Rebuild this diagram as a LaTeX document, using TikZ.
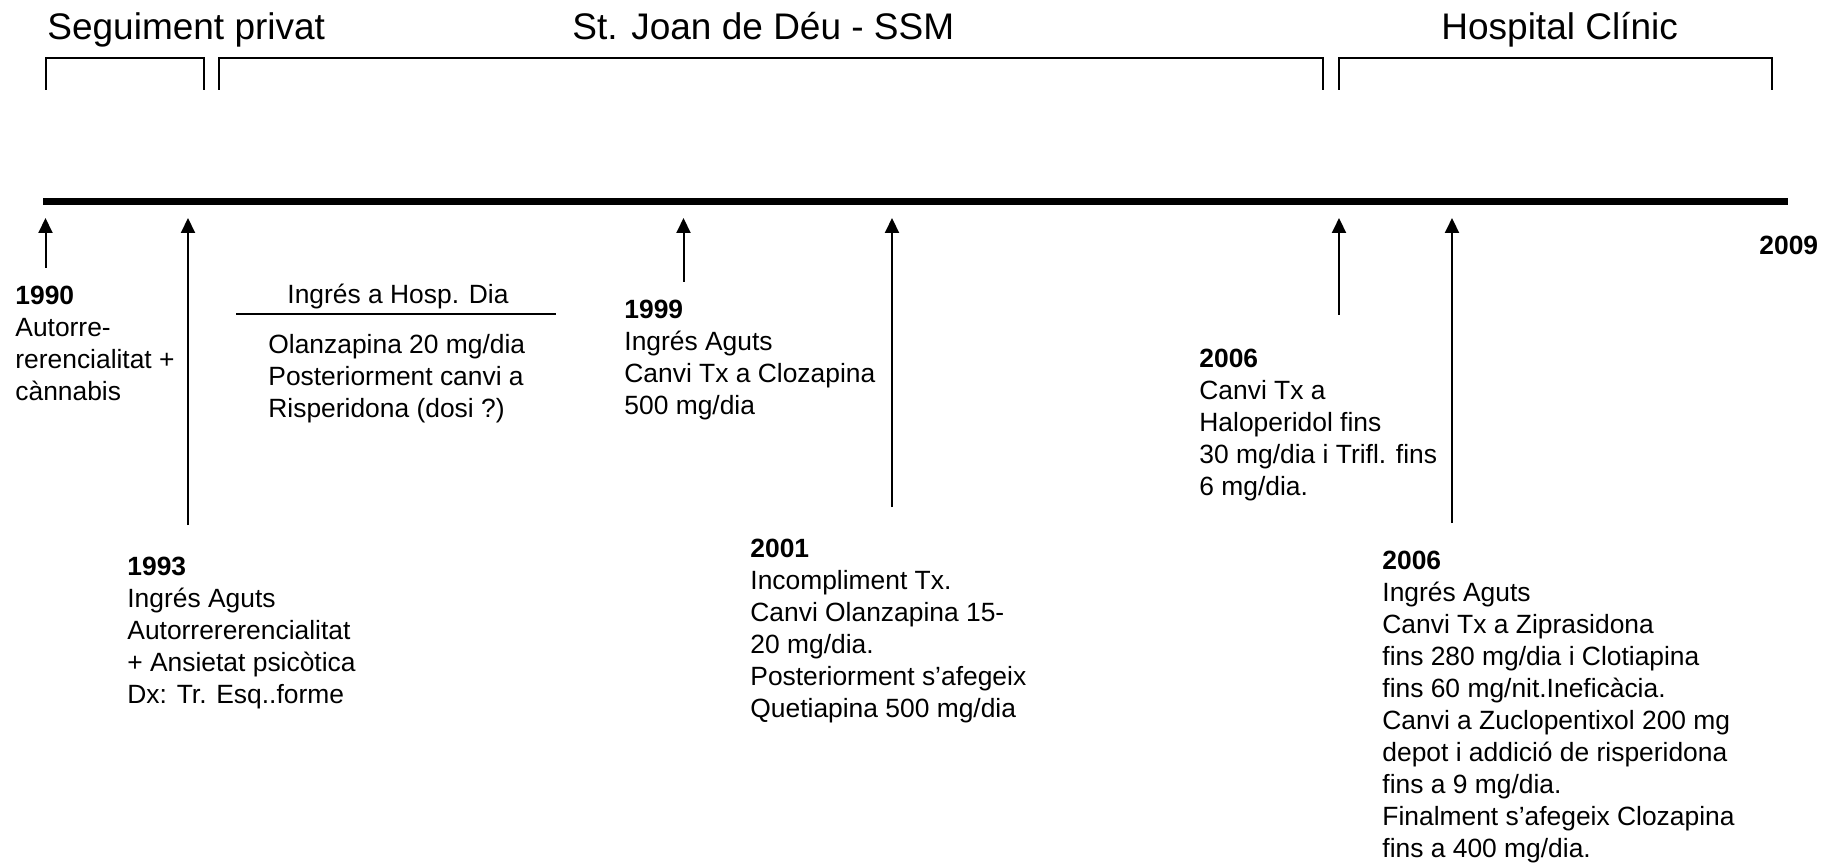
\documentclass[tikz,border=0pt]{standalone}
\usepackage{fontspec}
\setmainfont{Liberation Sans}
\usetikzlibrary{arrows.meta}
\begin{document}
\begin{tikzpicture}[x=0.5pt,y=-0.5pt,
  body/.style={anchor=north west, inner sep=0pt, align=left, font={\fontsize{13.2}{16}\selectfont}},
  ttl/.style={anchor=base west, inner sep=0pt, font={\fontsize{18.5}{22}\selectfont}},
  arr/.style={line width=1pt, -{Triangle[length=7.5pt,width=7pt]}},
  brk/.style={line width=0.9pt},
  bar/.style={line width=3.5pt},
  rule/.style={line width=0.75pt}]
\useasboundingbox (0,0) rectangle (1829,865);

% titles
\node[ttl] (t1) at (47,40) {Seguiment privat};
\node[ttl] (t2) at (572,40) {St. Joan de Déu - SSM};
\node[ttl] (t3) at (1441,40) {Hospital Clínic};

% brackets
\draw[brk] (46,90) -- (46,58) -- (204,58) -- (204,90);
\draw[brk] (219,90) -- (219,58) -- (1323,58) -- (1323,90);
\draw[brk] (1339,90) -- (1339,58) -- (1772,58) -- (1772,90);

% timeline
\coordinate (tlA) at (43,202);
\coordinate (tlB) at (1788,202);
\draw[bar] (tlA) -- (tlB);

% arrows
\coordinate (b1990) at (45.5,268);  \coordinate (e1990) at (45.5,218);
\coordinate (b1993) at (188,525);   \coordinate (e1993) at (188,218);
\coordinate (b1999) at (683.5,282); \coordinate (e1999) at (683.5,218);
\coordinate (b2001) at (892,507);   \coordinate (e2001) at (892,218);
\coordinate (b2006a) at (1339,315); \coordinate (e2006a) at (1339,218);
\coordinate (b2006b) at (1452,523); \coordinate (e2006b) at (1452,218);
\draw[arr] (b1990) -- (e1990);
\draw[arr] (b1993) -- (e1993);
\draw[arr] (b1999) -- (e1999);
\draw[arr] (b2001) -- (e2001);
\draw[arr] (b2006a) -- (e2006a);
\draw[arr] (b2006b) -- (e2006b);

% texts
\node[body] (n1990) at (15,285.5) {\textbf{1990}\\Autorre-\\rerencialitat +\\cànnabis};
\node[body] (n1993) at (127,556.5) {\textbf{1993}\\Ingrés Aguts\\Autorrererencialitat\\+ Ansietat psicòtica\\Dx: Tr. Esq..forme};
\node[body] (n1999) at (624,299.5) {\textbf{1999}\\Ingrés Aguts\\Canvi Tx a Clozapina\\500 mg/dia};
\node[body] (n2001) at (750,538.5) {\textbf{2001}\\Incompliment Tx.\\Canvi Olanzapina 15-\\20 mg/dia.\\Posteriorment s’afegeix\\Quetiapina 500 mg/dia};
\node[body] (n2006a) at (1199,348.5) {\textbf{2006}\\Canvi Tx a\\Haloperidol fins\\30 mg/dia i Trifl. fins\\6 mg/dia.};
\node[body] (n2006b) at (1382,551) {\textbf{2006}\\Ingrés Aguts\\Canvi Tx a Ziprasidona\\fins 280 mg/dia i Clotiapina\\fins 60 mg/nit.Ineficàcia.\\Canvi a Zuclopentixol 200 mg\\depot i addició de risperidona\\fins a 9 mg/dia.\\Finalment s’afegeix Clozapina\\fins a 400 mg/dia.};
\node[body] (n2009) at (1759,235.5) {\textbf{2009}};

% Hosp. Dia
\node[anchor=base, inner sep=0pt, font={\fontsize{13.2}{16}\selectfont}] (hd) at (398,303.5) {Ingrés a Hosp. Dia};
\coordinate (hdL) at (236,314);
\coordinate (hdR) at (556,314);
\draw[rule] (hdL) -- (hdR);
\node[body] (hdtx) at (268,333.5) {Olanzapina 20 mg/dia\\Posteriorment canvi a\\Risperidona (dosi ?)};
\end{tikzpicture}
\end{document}
